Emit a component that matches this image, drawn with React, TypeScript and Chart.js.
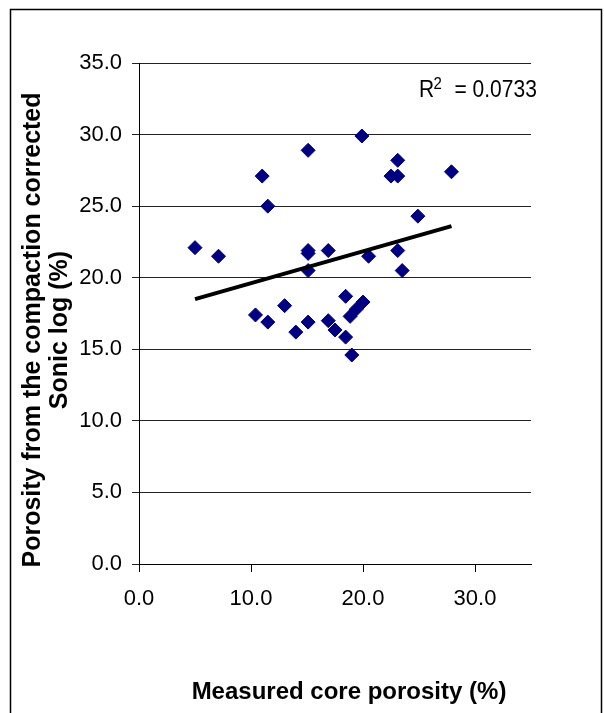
import { useEffect, useRef } from "react";
import { Chart, registerables } from "chart.js";

Chart.register(...registerables);

// Measured core porosity (%)
const coreX = [
  5.0, 7.1, 10.4, 11.0, 11.5, 11.5, 13.0, 14.0, 15.1, 15.1, 15.1, 15.1, 15.1,
  16.9, 16.9, 17.5, 18.45, 18.45, 19.0, 18.85, 19.4, 20.0, 19.9, 20.5, 22.5,
  23.1, 23.1, 23.1, 23.5, 24.9, 27.9,
];
// Porosity from the compaction corrected sonic log (%)
const sonicY = [
  22.1, 21.5, 17.4, 27.1, 25.0, 16.9, 18.05, 16.2, 28.9, 21.9, 21.7, 20.5, 16.9,
  21.9, 17.0, 16.35, 18.7, 15.85, 14.6, 17.3, 17.8, 18.3, 29.9, 21.5, 27.1,
  27.1, 28.2, 21.9, 20.5, 24.3, 27.4,
];
// Linear trendline end points
const trendX = [5.0, 27.9];
const trendY = [18.5, 23.6];

const xTicks = [0, 10, 20, 30];
const yTicks = [0, 5, 10, 15, 20, 25, 30, 35];

const xTitle = "Measured core porosity (%)";
const yTitle = ["Porosity from the compaction corrected", "Sonic log (%)"];
const rSquaredValue = "0.0733";

const FONT = '"Liberation Sans", Arial, sans-serif';

const decorPlugin = {
  id: "decor",
  beforeDraw(chart: any) {
    const ctx = chart.ctx;
    ctx.save();
    ctx.fillStyle = "#fff";
    ctx.fillRect(0, 0, chart.width, chart.height);
    ctx.strokeStyle = "#000";
    ctx.lineWidth = 1.5;
    ctx.beginPath();
    ctx.moveTo(10.5, chart.height + 5);
    ctx.lineTo(10.5, 9.5);
    ctx.lineTo(601.5, 9.5);
    ctx.lineTo(601.5, chart.height + 5);
    ctx.stroke();
    ctx.restore();
  },
  afterDraw(chart: any) {
    const ctx = chart.ctx;
    ctx.save();
    ctx.fillStyle = "#000";
    // x title
    ctx.font = `bold 24px ${FONT}`;
    ctx.textAlign = "center";
    ctx.textBaseline = "middle";
    ctx.fillText(xTitle, 349, 692);
    // y title
    ctx.save();
    ctx.font = `bold 25px ${FONT}`;
    ctx.translate(33, 330);
    ctx.rotate(-Math.PI / 2);
    ctx.fillText(yTitle[0], 0, 0);
    ctx.fillText(yTitle[1], 0, 27);
    ctx.restore();
    // R^2 label
    ctx.save();
    ctx.translate(419, 96.5);
    ctx.scale(1, 1.15);
    ctx.textAlign = "left";
    ctx.textBaseline = "alphabetic";
    ctx.font = `21px ${FONT}`;
    ctx.fillText("R", 0, 0);
    ctx.font = `15px ${FONT}`;
    ctx.fillText("2", 14.5, -6.5);
    ctx.font = `21px ${FONT}`;
    ctx.fillText("= " + rSquaredValue, 35.5, 0);
    ctx.restore();
    ctx.restore();
  },
};

export default function App() {
  const ref = useRef<HTMLCanvasElement | null>(null);

  useEffect(() => {
    if (!ref.current) return;
    Chart.defaults.font.family = FONT;
    const chart = new Chart(ref.current, {
      type: "scatter",
      data: {
        datasets: [
          {
            label: "Trend",
            data: trendX.map((x, i) => ({ x, y: trendY[i] })),
            showLine: true,
            borderColor: "#000",
            borderWidth: 4,
            pointRadius: 0,
            order: 0,
          },
          {
            label: "Samples",
            data: coreX.map((x, i) => ({ x, y: sonicY[i] })),
            pointStyle: "rectRot",
            pointRadius: 7,
            backgroundColor: "#000080",
            borderColor: "#000080",
            borderWidth: 1,
            order: 1,
          },
        ],
      },
      options: {
        responsive: false,
        animation: false,
        devicePixelRatio: 1,
        layout: { padding: { left: 0, right: 73, top: 63, bottom: 0 } },
        plugins: {
          legend: { display: false },
          tooltip: { enabled: false },
          title: { display: false },
        },
        scales: {
          x: {
            type: "linear",
            min: 0,
            max: 35,
            afterFit: (s: any) => {
              s.height = 149;
            },
            afterBuildTicks: (s: any) => {
              s.ticks = xTicks.map((v) => ({ value: v }));
            },
            ticks: {
              callback: (v: any) => Number(v).toFixed(1),
              color: "#000",
              font: { size: 22 },
              padding: 14,
              maxRotation: 0,
              autoSkip: false,
            },
            grid: {
              drawOnChartArea: false,
              drawTicks: true,
              tickLength: 8,
              color: "#000",
              lineWidth: 1,
            },
            border: { display: true, color: "#000", width: 1 },
          },
          y: {
            type: "linear",
            min: 0,
            max: 35,
            afterFit: (s: any) => {
              s.width = 139;
            },
            afterBuildTicks: (s: any) => {
              s.ticks = yTicks.map((v) => ({ value: v }));
            },
            ticks: {
              callback: (v: any) => Number(v).toFixed(1),
              color: "#000",
              font: { size: 22 },
              padding: 10,
              autoSkip: false,
            },
            grid: {
              color: "#222",
              lineWidth: 1,
              drawTicks: true,
              tickLength: 7,
            },
            border: { display: true, color: "#000", width: 1 },
          },
        },
      },
      plugins: [decorPlugin],
    } as any);
    return () => chart.destroy();
  }, []);

  return (
    <div
      style={{
        position: "fixed",
        left: 0,
        top: 0,
        width: 604,
        height: 713,
        overflow: "hidden",
        background: "#fff",
      }}
    >
      <canvas ref={ref} width={604} height={713} style={{ display: "block", width: 604, height: 713 }} />
    </div>
  );
}
